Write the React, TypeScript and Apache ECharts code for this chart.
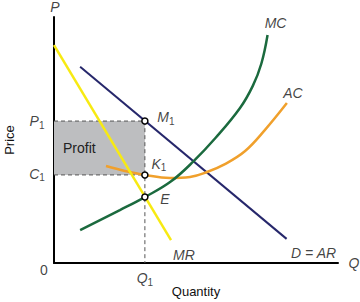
import React, { useEffect, useRef } from 'react';
import * as echarts from 'echarts';

// Axis ranges (data units)
const qMax = 10;
const pMax = 10;

// Equilibrium values
const Q1 = 3.2;
const P1 = 5.77;
const C1 = 3.58;
const E_P = 2.68;

// Curves (Q, P)
const demand = [[0.92, 7.98], [8.19, 0.98]];
const marginalRevenue = [[0, 8.86], [4.12, 0.93]];
const marginalCost = [
  [0.92, 1.34], [2.32, 2.15], [3.2, 2.68], [4.1, 3.3], [4.9, 4.12],
  [5.7, 5.1], [6.55, 6.3], [7.0, 7.2], [7.3, 8.1], [7.52, 9.27],
];
const averageCost = [
  [1.83, 3.94], [2.5, 3.74], [3.2, 3.58], [4.08, 3.46], [4.79, 3.5],
  [5.39, 3.7], [6.02, 4.02], [6.73, 4.55], [7.43, 5.41], [8.2, 6.5],
];
const keyPoints = [[Q1, P1], [Q1, C1], [Q1, E_P]];

const FONT = "'Liberation Sans', Arial, Helvetica, sans-serif";

const rich = {
  i: { fontStyle: 'italic', fontSize: 14, fontFamily: FONT, color: '#111', lineHeight: 18 },
  n: { fontSize: 14, fontFamily: FONT, color: '#111', lineHeight: 18 },
  s: { fontSize: 10, fontFamily: FONT, color: '#111', lineHeight: 13, verticalAlign: 'bottom' },
};

function textItem(value: number[], formatter: string, offset: number[]) {
  return {
    value,
    label: { show: true, formatter, offset, position: 'inside', align: 'center', verticalAlign: 'middle', rich },
  };
}

export default function App() {
  const ref = useRef<HTMLDivElement>(null);
  useEffect(() => {
    if (!ref.current) return;
    const chart = echarts.init(ref.current, null, { renderer: 'svg' });
    const last = (a: number[][]) => a[a.length - 1];
    const labels = [
      textItem([0, pMax], '{i|P}', [1, -10]),
      textItem([qMax, 0], '{i|Q}', [16, 0]),
      textItem([0, 0], '{n|0}', [-10, 7]),
      textItem([0, P1], '{i|P}{s|1}', [-17, 0]),
      textItem([0, C1], '{i|C}{s|1}', [-17, -1]),
      textItem([Q1, 0], '{i|Q}{s|1}', [0, 15]),
      textItem(keyPoints[0], '{i|M}{s|1}', [21, -4]),
      textItem(keyPoints[1], '{i|K}{s|1}', [14, -11]),
      textItem(keyPoints[2], '{i|E}', [20, 2]),
      textItem(last(marginalCost), '{i|MC}', [8, -12]),
      textItem(last(averageCost), '{i|AC}', [6, -10]),
      textItem(last(marginalRevenue), '{i|MR}', [13, 15]),
      textItem(last(demand), '{i|D = AR}', [27, 14]),
    ];
    chart.setOption({
      animation: false,
      grid: { left: 54, top: 17, right: 22, bottom: 39, containLabel: false, outerBoundsMode: 'none' },
      xAxis: {
        type: 'value', min: 0, max: qMax,
        name: 'Quantity', nameLocation: 'middle', nameGap: 22,
        nameTextStyle: { fontFamily: FONT, fontSize: 13, color: '#111' },
        axisLine: { show: true, onZero: false, lineStyle: { color: '#000', width: 2 } },
        axisTick: { show: false }, axisLabel: { show: false }, splitLine: { show: false },
      },
      yAxis: {
        type: 'value', min: 0, max: pMax,
        name: 'Price', nameLocation: 'middle', nameGap: 38, nameRotate: 90,
        nameTextStyle: { fontFamily: FONT, fontSize: 13, color: '#111' },
        axisLine: { show: true, onZero: false, lineStyle: { color: '#000', width: 2 } },
        axisTick: { show: false }, axisLabel: { show: false }, splitLine: { show: false },
      },
      series: [
        {
          type: 'line', data: [[0, P1], [Q1, P1], [Q1, 0]], symbol: 'none', z: 1,
          lineStyle: { color: '#555', width: 1, type: [4, 3] },
          markArea: {
            silent: true,
            itemStyle: { color: '#bdbec0' },
            label: { show: true, position: 'insideLeft', distance: 9, formatter: 'Profit', fontFamily: FONT, fontSize: 14, color: '#222' },
            data: [[{ coord: [0, C1] }, { coord: [Q1, P1] }]],
          },
        },
        {
          type: 'line', data: [[0, C1], [Q1, C1]], symbol: 'none', z: 1,
          lineStyle: { color: '#555', width: 1, type: [4, 3] },
        },
        { type: 'line', data: demand, symbol: 'none', z: 3, lineStyle: { color: '#26276b', width: 2 } },
        { type: 'line', data: averageCost, symbol: 'none', smooth: 0.4, z: 3, lineStyle: { color: '#f0a02c', width: 2.5 } },
        { type: 'line', data: marginalCost, symbol: 'none', smooth: 0.4, z: 3, lineStyle: { color: '#1b6a3e', width: 2.5 } },
        { type: 'line', data: marginalRevenue, symbol: 'none', z: 3, lineStyle: { color: '#f7ea12', width: 2.5 } },
        {
          type: 'scatter', data: keyPoints, symbol: 'circle', symbolSize: 6, z: 5,
          itemStyle: { color: '#fff', borderColor: '#000', borderWidth: 1.5, opacity: 1 },
        },
        {
          type: 'scatter', data: labels, symbolSize: 1, z: 6, silent: true,
          itemStyle: { color: 'rgba(0,0,0,0)' },
        },
      ],
    });
    return () => chart.dispose();
  }, []);
  return <div ref={ref} style={{ width: 360, height: 302, position: 'absolute', left: 0, top: 0, background: '#fff' }} />;
}
